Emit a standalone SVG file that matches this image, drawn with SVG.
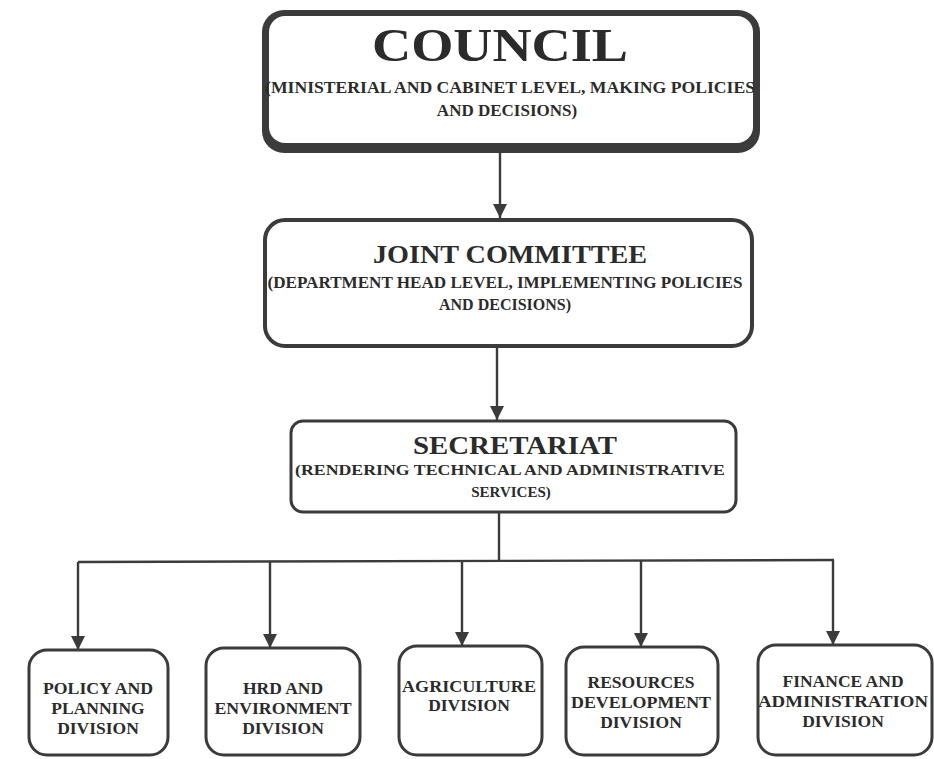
<svg xmlns="http://www.w3.org/2000/svg" width="934" height="759" viewBox="0 0 934 759">
<style>
.t{font-family:"Liberation Serif","Times New Roman",serif;font-weight:bold;fill:#2b2b2b;text-anchor:middle}
.d{font-size:17.5px}
.box{fill:#ffffff;stroke:#3b3b3b}
.ln{stroke:#3b3b3b;stroke-width:2.4;fill:none}
</style>
<defs>
<marker id="ah" markerUnits="userSpaceOnUse" markerWidth="15" markerHeight="15" refX="14" refY="7" orient="auto">
<path d="M0,0 L14,7 L0,14 z" fill="#3b3b3b"/>
</marker>
</defs>
<rect width="934" height="759" fill="#ffffff"/>
<g id="connectors">
<line class="ln" x1="500" y1="153" x2="500" y2="218" marker-end="url(#ah)"/>
<line class="ln" x1="497" y1="347" x2="497" y2="420" marker-end="url(#ah)"/>
<line class="ln" x1="499" y1="513" x2="499" y2="561"/>
<line class="ln" x1="78" y1="562" x2="834" y2="560"/>
<line class="ln" x1="78" y1="562" x2="78" y2="650" marker-end="url(#ah)"/>
<line class="ln" x1="270" y1="561" x2="270" y2="648" marker-end="url(#ah)"/>
<line class="ln" x1="462" y1="561" x2="462" y2="646" marker-end="url(#ah)"/>
<line class="ln" x1="641" y1="561" x2="641" y2="647" marker-end="url(#ah)"/>
<line class="ln" x1="833" y1="560" x2="833" y2="645" marker-end="url(#ah)"/>
</g>
<g id="council">
<rect x="262" y="10" width="498" height="143" rx="22" fill="#3b3b3b"/>
<rect x="269" y="16" width="484" height="127" rx="16" fill="#ffffff"/>
<text class="t" x="500" y="61" font-size="47" textLength="256" lengthAdjust="spacingAndGlyphs">COUNCIL</text>
<text class="t" x="510" y="93" font-size="17" textLength="490" lengthAdjust="spacingAndGlyphs">(MINISTERIAL AND CABINET LEVEL, MAKING POLICIES</text>
<text class="t" x="507" y="116" font-size="17">AND DECISIONS)</text>
</g>
<g id="joint-committee">
<rect class="box" x="265" y="220" width="487" height="126" rx="20" stroke-width="4"/>
<text class="t" x="510" y="263" font-size="25" textLength="274" lengthAdjust="spacingAndGlyphs">JOINT COMMITTEE</text>
<text class="t" x="505" y="288" font-size="16" textLength="475" lengthAdjust="spacingAndGlyphs">(DEPARTMENT HEAD LEVEL, IMPLEMENTING POLICIES</text>
<text class="t" x="505" y="310" font-size="16">AND DECISIONS)</text>
</g>
<g id="secretariat">
<rect class="box" x="291" y="421" width="445" height="91" rx="12" stroke-width="3"/>
<text class="t" x="515" y="454" font-size="25" textLength="204" lengthAdjust="spacingAndGlyphs">SECRETARIAT</text>
<text class="t" x="510" y="475" font-size="15" textLength="430" lengthAdjust="spacingAndGlyphs">(RENDERING TECHNICAL AND ADMINISTRATIVE</text>
<text class="t" x="511" y="497" font-size="15">SERVICES)</text>
</g>
<g id="policy-planning">
<rect class="box" x="29" y="650" width="139" height="105" rx="18" stroke-width="3"/>
<text class="t d" x="98" y="694" textLength="110" lengthAdjust="spacingAndGlyphs">POLICY AND</text>
<text class="t d" x="98" y="714">PLANNING</text>
<text class="t d" x="98" y="734">DIVISION</text>
</g>
<g id="hrd-environment">
<rect class="box" x="206" y="648" width="154" height="107" rx="18" stroke-width="3"/>
<text class="t d" x="283" y="694">HRD AND</text>
<text class="t d" x="283" y="714" textLength="137" lengthAdjust="spacingAndGlyphs">ENVIRONMENT</text>
<text class="t d" x="283" y="734">DIVISION</text>
</g>
<g id="agriculture">
<rect class="box" x="399" y="646" width="143" height="109" rx="18" stroke-width="3"/>
<text class="t d" x="469" y="692" textLength="134" lengthAdjust="spacingAndGlyphs">AGRICULTURE</text>
<text class="t d" x="469" y="711">DIVISION</text>
</g>
<g id="resources-development">
<rect class="box" x="566" y="647" width="152" height="108" rx="18" stroke-width="3"/>
<text class="t d" x="641" y="688">RESOURCES</text>
<text class="t d" x="641" y="708" textLength="140" lengthAdjust="spacingAndGlyphs">DEVELOPMENT</text>
<text class="t d" x="641" y="728">DIVISION</text>
</g>
<g id="finance-administration">
<rect class="box" x="758" y="645" width="174" height="110" rx="18" stroke-width="3"/>
<text class="t d" x="843" y="687">FINANCE AND</text>
<text class="t d" x="843" y="707" textLength="170" lengthAdjust="spacingAndGlyphs">ADMINISTRATION</text>
<text class="t d" x="843" y="727">DIVISION</text>
</g>
</svg>
